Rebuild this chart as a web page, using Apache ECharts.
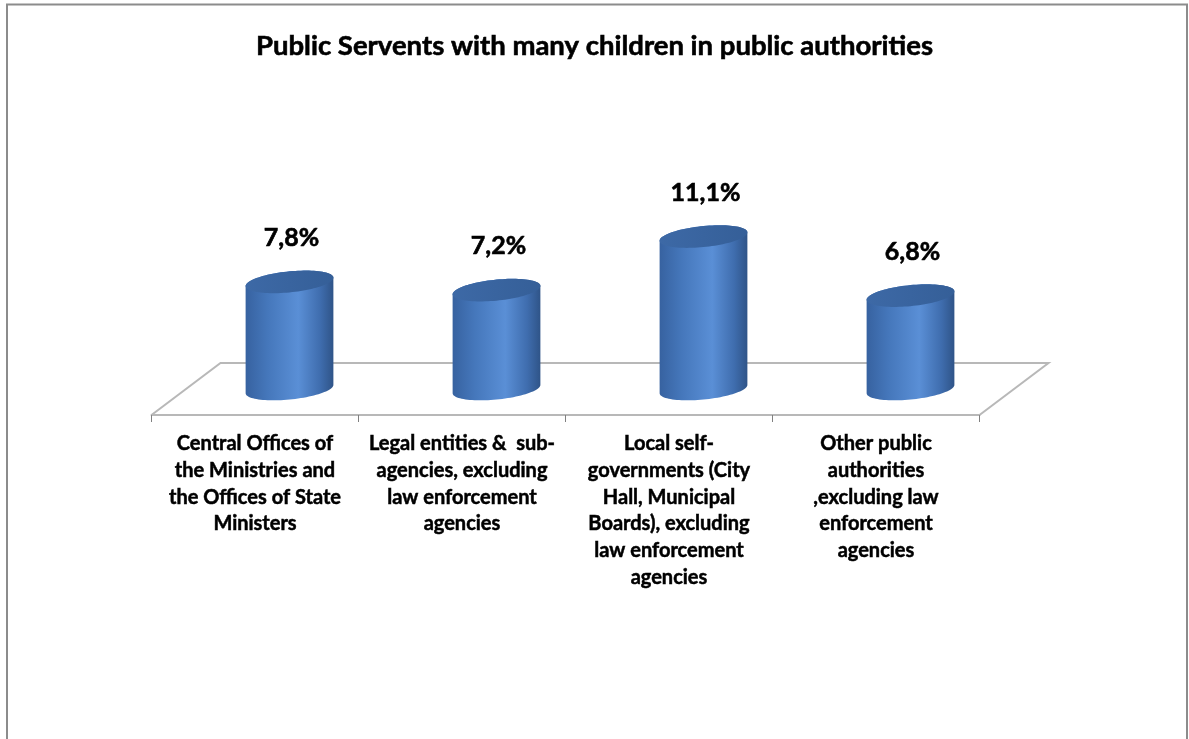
<!DOCTYPE html>
<html>
<head>
<meta charset="utf-8">
<script src="https://cdn.jsdelivr.net/npm/echarts@6/dist/echarts.min.js"></script>
<style>
  html, body { margin: 0; padding: 0; background: #ffffff; }
  #chart { width: 1189px; height: 739px; }
</style>
</head>
<body>
<div id="chart"></div>
<script>
// Chart content
const titleText = 'Public Servents with many children in public authorities';
const categories = [
  'Central Offices of\nthe Ministries and\nthe Offices of State\nMinisters',
  'Legal entities &  sub-\nagencies, excluding\nlaw enforcement\nagencies',
  'Local self-\ngovernments (City\nHall, Municipal\nBoards), excluding\nlaw enforcement\nagencies',
  'Other public\nauthorities\n,excluding law\nenforcement\nagencies'
];
const shares = [7.8, 7.2, 11.1, 6.8];

// Styling constants for the pseudo-3D look
const FONT = 'Lato, "Open Sans", "DejaVu Sans", sans-serif';
const DEPTH_X = 34.5;   // half depth of the floor, horizontal shift
const DEPTH_Y = 26;     // half depth of the floor, vertical shift
const SHEAR = -0.095;   // perspective tilt of the ellipses
const FLOOR_COLOR = '#b8b8b8';

function fmt(v) {
  return v.toFixed(1).replace('.', ',') + '%';
}

// Ellipse point with perspective shear
function ept(cx, cy, rx, ry, t) {
  const c = Math.cos(t), s = Math.sin(t);
  return [cx + rx * c, cy + ry * s + SHEAR * rx * c];
}

function renderCylinder(params, api) {
  const idx = api.value(0);
  const val = api.value(1);
  const base = api.coord([idx, 0]);
  const top = api.coord([idx, val]);
  const bw = api.size([1, 0])[0];
  const rx = bw * 0.212;
  const ry = rx * 0.24;
  const N = 48;

  // body outline: lower half of base ellipse, then upper half of top ellipse
  const body = [];
  for (let i = 0; i <= N; i++) {
    const t = Math.PI - Math.PI * i / N;
    body.push(ept(base[0], base[1], rx, ry, t));
  }
  for (let i = 0; i <= N; i++) {
    const t = -Math.PI * i / N;
    body.push(ept(top[0], top[1], rx, ry, t));
  }
  const cap = [];
  for (let i = 0; i < 2 * N; i++) {
    cap.push(ept(top[0], top[1], rx, ry, Math.PI * 2 * i / (2 * N)));
  }

  return {
    type: 'group',
    children: [
      {
        type: 'polygon',
        shape: { points: body },
        style: {
          fill: new echarts.graphic.LinearGradient(0, 0, 1, 0, [
            { offset: 0, color: '#3762a0' },
            { offset: 0.25, color: '#4577bb' },
            { offset: 0.6, color: '#5a8fd6' },
            { offset: 0.85, color: '#3f6dae' },
            { offset: 1, color: '#2f5488' }
          ]),
          stroke: null
        }
      },
      {
        type: 'polygon',
        shape: { points: cap },
        style: {
          fill: new echarts.graphic.LinearGradient(0, 0, 1, 0, [
            { offset: 0, color: '#3d69a6' },
            { offset: 1, color: '#355f98' }
          ]),
          stroke: null
        }
      },
      {
        type: 'text',
        x: top[0] + 2,
        y: top[1] - 44,
        style: {
          text: fmt(val),
          font: 'bold 25px ' + FONT,
          fill: '#000000',
          stroke: '#000000',
          lineWidth: 0.6,
          align: 'center',
          verticalAlign: 'middle'
        }
      }
    ]
  };
}

function renderFloor(params, api) {
  const bw = api.size([1, 0])[0];
  const first = api.coord([0, 0]);
  const last = api.coord([categories.length - 1, 0]);
  const x0 = first[0] - bw / 2;
  const x1 = last[0] + bw / 2;
  const y = first[1];
  return {
    type: 'polyline',
    shape: {
      points: [
        [x0 - DEPTH_X, y + DEPTH_Y],
        [x0 + DEPTH_X, y - DEPTH_Y],
        [x1 + DEPTH_X, y - DEPTH_Y],
        [x1 - DEPTH_X, y + DEPTH_Y]
      ]
    },
    style: { stroke: FLOOR_COLOR, lineWidth: 2, fill: null }
  };
}

const chart = echarts.init(document.getElementById('chart'), null, { renderer: 'canvas' });

chart.setOption({
  backgroundColor: '#ffffff',
  animation: false,
  title: {
    text: titleText,
    left: 'center',
    top: 27,
    textStyle: {
      fontFamily: FONT, fontWeight: 'bold', fontSize: 27.5, color: '#000000',
      textBorderColor: '#000000', textBorderWidth: 0.6
    }
  },
  graphic: [
    {
      type: 'rect',
      shape: { x: 7, y: 4.5, width: 1180, height: 800 },
      style: { fill: null, stroke: '#8c8c8c', lineWidth: 2 },
      silent: true
    }
  ],
  grid: [
    // front edge of the floor: category axis with labels
    { left: 151.5, right: 209.5, top: 200, bottom: 324 },
    // middle plane where the cylinders stand
    { left: 186, right: 175, top: 183, bottom: 350 }
  ],
  xAxis: [
    {
      type: 'category',
      gridIndex: 0,
      data: categories,
      axisLine: { show: true, lineStyle: { color: FLOOR_COLOR, width: 2 } },
      axisTick: { show: true, length: 7, lineStyle: { color: '#808080', width: 1 } },
      axisLabel: {
        interval: 0,
        margin: 15.5,
        fontFamily: FONT,
        fontWeight: 'bold',
        fontSize: 20,
        lineHeight: 26.7,
        color: '#000000',
        textBorderColor: '#000000',
        textBorderWidth: 0.5
      },
      splitLine: { show: false }
    },
    {
      type: 'category',
      gridIndex: 1,
      data: categories,
      show: false
    }
  ],
  yAxis: [
    { type: 'value', gridIndex: 0, min: 0, max: 15, show: false },
    { type: 'value', gridIndex: 1, min: 0, max: 15, show: false }
  ],
  series: [
    {
      type: 'custom',
      name: 'floor',
      xAxisIndex: 1,
      yAxisIndex: 1,
      data: [[0, 0]],
      renderItem: renderFloor,
      z: 1,
      silent: true
    },
    {
      type: 'custom',
      name: 'share',
      xAxisIndex: 1,
      yAxisIndex: 1,
      data: shares.map((v, i) => [i, v]),
      renderItem: renderCylinder,
      encode: { x: 0, y: 1 },
      z: 2
    }
  ]
});
</script>
</body>
</html>
